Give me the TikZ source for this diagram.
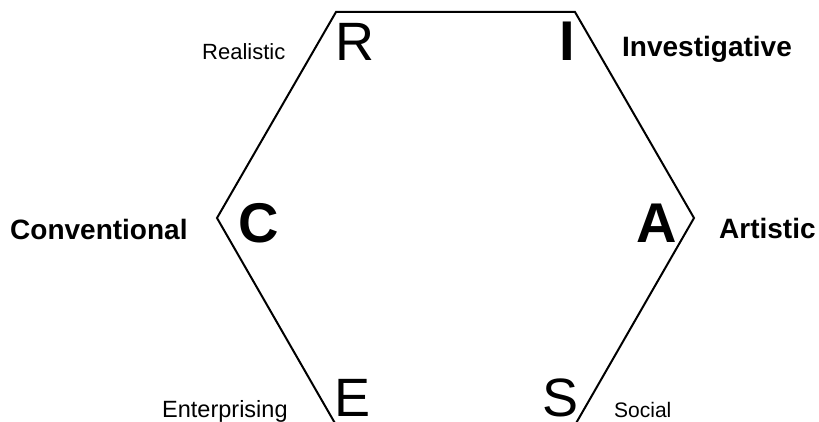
\documentclass[tikz,border=0pt]{standalone}
\usepackage{fontspec}
\setmainfont{Liberation Sans}
\usetikzlibrary{positioning}

\begin{document}
\begin{tikzpicture}[x=1pt,y=-1pt,
  letter/.style={inner sep=0pt,text depth=0pt,anchor=base west,font=\fontsize{54}{60}\selectfont},
  boldletter/.style={letter,font=\fontsize{56}{60}\selectfont\bfseries},
  type/.style={inner sep=0pt,anchor=base west,font=\fontsize{22}{26}\selectfont},
  boldtype/.style={type,font=\fontsize{28}{30}\selectfont\bfseries}]
\useasboundingbox (0,0) rectangle (819,422);
%corners of the hexagon
\coordinate (cR) at (336,12);
\coordinate (cI) at (575,12);
\coordinate (cA) at (694,218);
\coordinate (cS) at (575,425);
\coordinate (cE) at (336,425);
\coordinate (cC) at (217,218);
\begin{scope}
  \clip (0,0) rectangle (819,422);
  \draw[line width=2pt,line join=miter] (cR) -- (cI) -- (cA) -- (cS) -- (cE) -- (cC) -- cycle;
\end{scope}
%letters
\node[letter] (R) at (335,61) {R};
\node[boldletter] (I) at (559,61) {I};
\node[boldletter] (C) at (238,242) {C};
\node[boldletter] (A) at (636,242) {A};
\node[letter] (E) at (334,416) {E};
\node[letter] (S) at (542,416) {S};
%types
\node[type] (realistic) at (202,60) {Realistic};
\node[boldtype] (investigative) at (622,57) {Investigative};
\node[boldtype] (conventional) at (10,240) {Conventional};
\node[boldtype] (artistic) at (719,238) {Artistic};
\node[type,font=\fontsize{23.5}{26}\selectfont,text depth=4pt] (enterprising) at (162,417) {Enterprising};
\node[type,font=\fontsize{21}{26}\selectfont] (social) at (614,417) {Social};
\end{tikzpicture}
\end{document}
